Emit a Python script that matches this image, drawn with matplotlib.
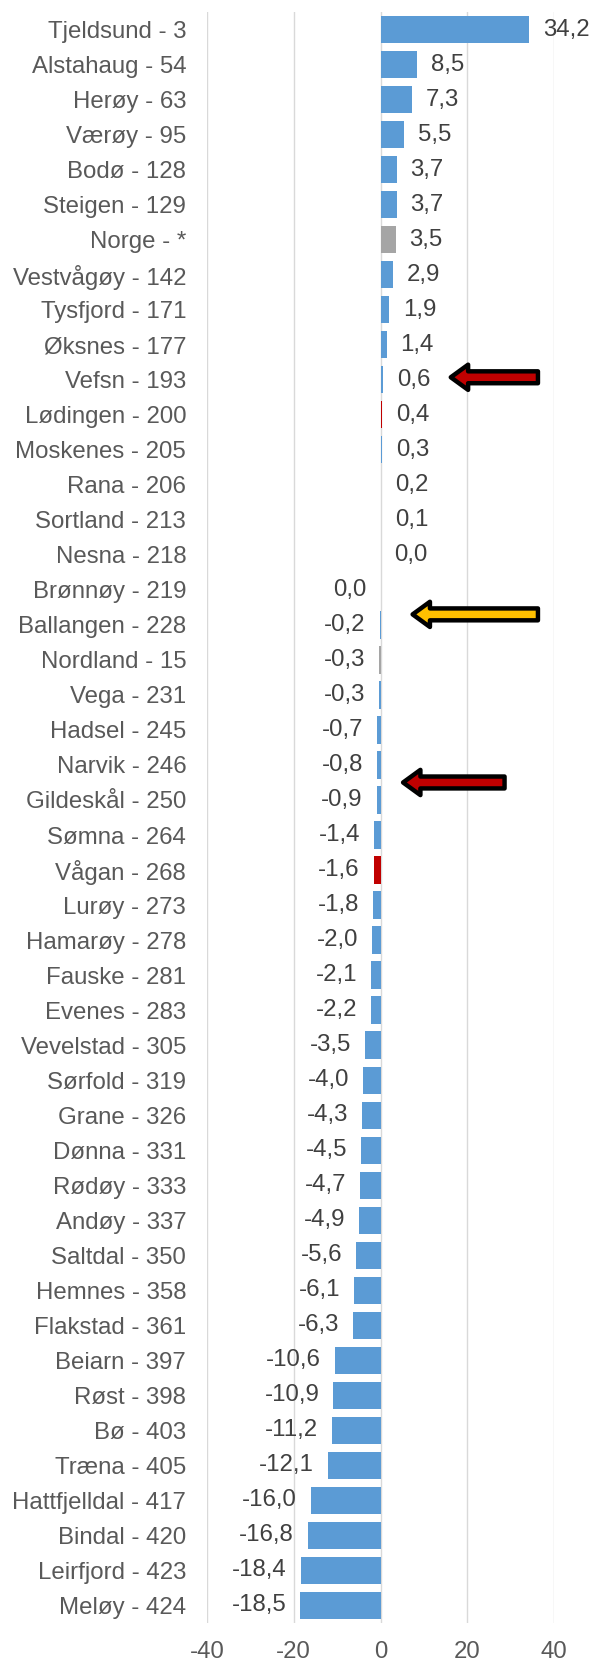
import matplotlib
matplotlib.use("Agg")
import matplotlib.pyplot as plt
from matplotlib.patches import FancyArrow

plt.rcParams['font.family'] = ['Liberation Sans', 'DejaVu Sans']

categories = ["Tjeldsund - 3", "Alstahaug - 54", "Herøy - 63", "Værøy - 95", "Bodø - 128",
              "Steigen - 129", "Norge - *", "Vestvågøy - 142", "Tysfjord - 171", "Øksnes - 177",
              "Vefsn - 193", "Lødingen - 200", "Moskenes - 205", "Rana - 206", "Sortland - 213",
              "Nesna - 218", "Brønnøy - 219", "Ballangen - 228", "Nordland - 15", "Vega - 231",
              "Hadsel - 245", "Narvik - 246", "Gildeskål - 250", "Sømna - 264", "Vågan - 268",
              "Lurøy - 273", "Hamarøy - 278", "Fauske - 281", "Evenes - 283", "Vevelstad - 305",
              "Sørfold - 319", "Grane - 326", "Dønna - 331", "Rødøy - 333", "Andøy - 337",
              "Saltdal - 350", "Hemnes - 358", "Flakstad - 361", "Beiarn - 397", "Røst - 398",
              "Bø - 403", "Træna - 405", "Hattfjelldal - 417", "Bindal - 420", "Leirfjord - 423",
              "Meløy - 424"]
values = [34.2, 8.5, 7.3, 5.5, 3.7, 3.7, 3.5, 2.9, 1.9, 1.4,
          0.6, 0.4, 0.3, 0.2, 0.1, 0.0, -0.0, -0.2, -0.3, -0.3,
          -0.7, -0.8, -0.9, -1.4, -1.6, -1.8, -2.0, -2.1, -2.2, -3.5,
          -4.0, -4.3, -4.5, -4.7, -4.9, -5.6, -6.1, -6.3, -10.6, -10.9,
          -11.2, -12.1, -16.0, -16.8, -18.4, -18.5]
label_left = ["Brønnøy - 219"]   # zero value shown on the negative side
grey_items = ["Norge - *", "Nordland - 15"]
red_items = ["Lødingen - 200", "Vågan - 268"]
xticks = [-40, -20, 0, 20, 40]

BLUE = "#5B9BD5"
GREY = "#A5A5A5"
RED = "#C00000"
TEXT = "#595959"

colors = []
for c in categories:
    if c in grey_items:
        colors.append(GREY)
    elif c in red_items:
        colors.append(RED)
    else:
        colors.append(BLUE)

fig = plt.figure(figsize=(5.91, 16.63), dpi=100)
ax = fig.add_axes([207/591, 1 - 1623/1663, (554-207)/591, (1623-12)/1663])

ypos = list(range(len(categories)))
ax.barh(ypos, values, height=0.78, color=colors, zorder=2)
ax.set_xlim(-40, 40)
ax.set_ylim(len(categories) - 0.5, -0.5)
ax.set_xticks(xticks)
ax.set_xticklabels([str(t) for t in xticks])
ax.set_yticks(ypos)
ax.set_yticklabels(categories)
ax.tick_params(axis='both', length=0, labelsize=17.3, colors=TEXT)
ax.tick_params(axis='y', pad=15)
ax.tick_params(axis='x', pad=13)
for s in ax.spines.values():
    s.set_visible(False)
ax.xaxis.grid(True, color="#D9D9D9", linewidth=1.0, zorder=0)
ax.set_axisbelow(True)

for c, y, v in zip(categories, ypos, values):
    s = f"{abs(v):.1f}".replace('.', ',')
    if v < 0:
        s = "-" + s
    if v < 0 or c in label_left:
        ax.annotate(s, (v, y), xytext=(-10, 0), textcoords='offset points',
                    ha='right', va='center', fontsize=17.3, color="#404040")
    else:
        ax.annotate(s, (v, y), xytext=(10, 0), textcoords='offset points',
                    ha='left', va='center', fontsize=17.3, color="#404040")

# annotation arrows (tail x, tip x, y, colour)
arrows = [(36.3, 16.2, 9.93, RED), (36.3, 7.4, 16.7, "#FFC000"), (28.6, 5.2, 21.5, RED)]
for x0, x1, yy, col in arrows:
    ar = FancyArrow(x0, yy, x1 - x0, 0, width=0.34, head_width=0.72, head_length=4.0,
                    length_includes_head=True, facecolor=col, edgecolor='black',
                    linewidth=3.2, joinstyle='round', zorder=5, clip_on=False)
    ax.add_patch(ar)

fig.savefig("out.png", dpi=100)
